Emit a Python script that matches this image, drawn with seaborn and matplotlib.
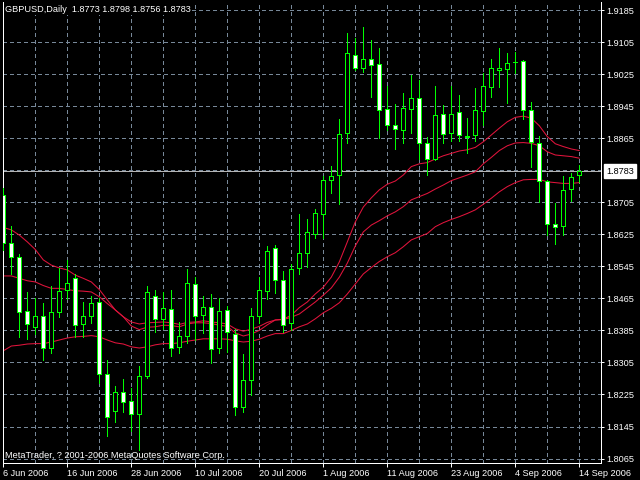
import numpy as np
import pandas as pd
import matplotlib
matplotlib.use("Agg")
import matplotlib.pyplot as plt
import matplotlib.transforms as mtransforms
import seaborn as sns

# ---------------- data ----------------
symbol_title = "GBPUSD,Daily  1.8773 1.8798 1.8756 1.8783"
footer_text = "MetaTrader, ? 2001-2006 MetaQuotes Software Corp."
dates = pd.bdate_range("2006-06-06", "2006-09-14")

opens = [1.8723, 1.8604, 1.8569, 1.8434, 1.8393, 1.8420, 1.8340, 1.8430, 1.8485, 1.8515,
         1.8400, 1.8420, 1.8455, 1.8275, 1.8183, 1.8230, 1.8208, 1.8177, 1.8272, 1.8470,
         1.8413, 1.8438, 1.8343, 1.8370, 1.8500, 1.8423, 1.8443, 1.8340, 1.8435, 1.8375,
         1.8193, 1.8260, 1.8420, 1.8483, 1.8590, 1.8510, 1.8403, 1.8540, 1.8578, 1.8625,
         1.8675, 1.8760, 1.8772, 1.8877, 1.9072, 1.9039, 1.9062, 1.9049, 1.8937, 1.8897,
         1.8885, 1.8937, 1.8965, 1.8852, 1.8812, 1.8925, 1.8877, 1.8930, 1.8867, 1.8872,
         1.8932, 1.8992, 1.9036, 1.9037, 1.9054, 1.9057, 1.8935, 1.8852, 1.8757, 1.8650,
         1.8645, 1.8737, 1.8773]
highs = [1.8741, 1.8646, 1.8576, 1.8481, 1.8467, 1.8453, 1.8496, 1.8542, 1.8560, 1.8526,
         1.8456, 1.8470, 1.8467, 1.8311, 1.8246, 1.8264, 1.8240, 1.8296, 1.8496, 1.8486,
         1.8480, 1.8486, 1.8406, 1.8538, 1.8518, 1.8470, 1.8476, 1.8466, 1.8445, 1.8388,
         1.8326, 1.8440, 1.8518, 1.8596, 1.8597, 1.8533, 1.8550, 1.8676, 1.8662, 1.8687,
         1.8770, 1.8796, 1.8913, 1.9127, 1.9114, 1.9142, 1.9110, 1.9090, 1.8995, 1.8950,
         1.8977, 1.9022, 1.9010, 1.8867, 1.8995, 1.8947, 1.8995, 1.8972, 1.8915, 1.8990,
         1.9027, 1.9062, 1.9089, 1.9077, 1.9081, 1.9060, 1.8955, 1.8870, 1.8760, 1.8702,
         1.8770, 1.8777, 1.8798]
lows = [1.8586, 1.8526, 1.8368, 1.8363, 1.8375, 1.8312, 1.8329, 1.8418, 1.8463, 1.8368,
        1.8369, 1.8404, 1.8254, 1.8121, 1.8157, 1.8181, 1.8135, 1.8086, 1.8267, 1.8382,
        1.8388, 1.8322, 1.8329, 1.8353, 1.8362, 1.8378, 1.8304, 1.8328, 1.8332, 1.8174,
        1.8180, 1.8224, 1.8404, 1.8464, 1.8478, 1.8380, 1.8386, 1.8525, 1.8543, 1.8615,
        1.8615, 1.8727, 1.8700, 1.8852, 1.9035, 1.9031, 1.8969, 1.8865, 1.8885, 1.8839,
        1.8852, 1.8877, 1.8812, 1.8772, 1.8811, 1.8852, 1.8859, 1.8859, 1.8827, 1.8857,
        1.8897, 1.8969, 1.8992, 1.8954, 1.9027, 1.8912, 1.8792, 1.8705, 1.8623, 1.8600,
        1.8623, 1.8709, 1.8756]
closes = [1.8603, 1.8569, 1.8432, 1.8400, 1.8420, 1.8340, 1.8430, 1.8483, 1.8503, 1.8398,
          1.8420, 1.8453, 1.8275, 1.8170, 1.8230, 1.8205, 1.8177, 1.8270, 1.8480, 1.8413,
          1.8440, 1.8340, 1.8370, 1.8503, 1.8420, 1.8443, 1.8338, 1.8433, 1.8380, 1.8193,
          1.8260, 1.8420, 1.8485, 1.8583, 1.8510, 1.8398, 1.8538, 1.8578, 1.8630, 1.8677,
          1.8760, 1.8770, 1.8875, 1.9077, 1.9039, 1.9062, 1.9047, 1.8935, 1.8897, 1.8887,
          1.8940, 1.8965, 1.8852, 1.8812, 1.8922, 1.8875, 1.8925, 1.8872, 1.8870, 1.8935,
          1.8995, 1.9039, 1.9039, 1.9052, 1.9056, 1.8936, 1.8855, 1.8757, 1.8650, 1.8642,
          1.8735, 1.8767, 1.8783]

ma_fast = [1.8642, 1.8636, 1.8623, 1.8606, 1.8587, 1.8561, 1.8548, 1.8541, 1.8536, 1.8523,
           1.8515, 1.8506, 1.8487, 1.8461, 1.8436, 1.8419, 1.8406, 1.8401, 1.8404, 1.8405,
           1.8406, 1.8404, 1.8400, 1.8405, 1.8406, 1.8409, 1.8406, 1.8404, 1.8401, 1.8389,
           1.8383, 1.8388, 1.8395, 1.8405, 1.8411, 1.8413, 1.8423, 1.8442, 1.8456, 1.8476,
           1.8493, 1.8518, 1.8556, 1.8606, 1.8656, 1.8693, 1.8716, 1.8736, 1.8750, 1.8758,
           1.8773, 1.8794, 1.8801, 1.8804, 1.8813, 1.8821, 1.8827, 1.8833, 1.8836, 1.8842,
           1.8856, 1.8873, 1.8890, 1.8906, 1.8917, 1.8920, 1.8915, 1.8896, 1.8869, 1.8851,
           1.8844, 1.8838, 1.8834]
ma_mid = [1.8521, 1.8521, 1.8515, 1.8509, 1.8506, 1.8497, 1.8490, 1.8490, 1.8487, 1.8484,
          1.8483, 1.8481, 1.8469, 1.8452, 1.8436, 1.8419, 1.8396, 1.8387, 1.8393, 1.8394,
          1.8398, 1.8397, 1.8394, 1.8401, 1.8404, 1.8404, 1.8402, 1.8398, 1.8395, 1.8379,
          1.8371, 1.8376, 1.8385, 1.8399, 1.8411, 1.8412, 1.8418, 1.8426, 1.8441, 1.8456,
          1.8473, 1.8491, 1.8518, 1.8553, 1.8596, 1.8631, 1.8648, 1.8659, 1.8671, 1.8681,
          1.8694, 1.8711, 1.8719, 1.8727, 1.8738, 1.8748, 1.8759, 1.8766, 1.8773, 1.8781,
          1.8801, 1.8817, 1.8834, 1.8846, 1.8853, 1.8854, 1.8852, 1.8846, 1.8831, 1.8823,
          1.8821, 1.8819, 1.8815]
ma_slow = [1.8334, 1.8346, 1.8348, 1.8351, 1.8352, 1.8352, 1.8356, 1.8361, 1.8366, 1.8369,
           1.8370, 1.8372, 1.8369, 1.8361, 1.8354, 1.8351, 1.8344, 1.8341, 1.8344, 1.8349,
           1.8352, 1.8352, 1.8354, 1.8358, 1.8361, 1.8364, 1.8364, 1.8364, 1.8363, 1.8359,
           1.8356, 1.8358, 1.8363, 1.8371, 1.8377, 1.8377, 1.8385, 1.8394, 1.8401, 1.8414,
           1.8429, 1.8440, 1.8454, 1.8476, 1.8501, 1.8526, 1.8542, 1.8557, 1.8569, 1.8579,
           1.8594, 1.8611, 1.8619, 1.8627, 1.8644, 1.8654, 1.8662, 1.8669, 1.8677, 1.8686,
           1.8700, 1.8715, 1.8731, 1.8744, 1.8754, 1.8761, 1.8762, 1.8762, 1.8756, 1.8754,
           1.8752, 1.8752, 1.8754]

price_ticks = [1.8065, 1.8145, 1.8225, 1.8305, 1.8385, 1.8465, 1.8545, 1.8625,
               1.8705, 1.8865, 1.8945, 1.9025, 1.9105, 1.9185]
grid_prices = [1.8065, 1.8145, 1.8225, 1.8305, 1.8385, 1.8465, 1.8545, 1.8625,
               1.8705, 1.8785, 1.8865, 1.8945, 1.9025, 1.9105, 1.9185]
date_tick_labels = ["6 Jun 2006", "16 Jun 2006", "28 Jun 2006", "10 Jul 2006", "20 Jul 2006",
                    "1 Aug 2006", "11 Aug 2006", "23 Aug 2006", "4 Sep 2006", "14 Sep 2006"]
last_price = 1.8783

# ---------------- styling ----------------
sns.set_theme(style="dark")
plt.rcParams["font.family"] = ["Liberation Sans", "DejaVu Sans"]
FS = 6.6
PX = 72 / 100  # one pixel in points

EDGE = "#00ff00"
WICK = "#00ff00"
MA_COLOR = "#e0143c"
GRID = "#778899"

fig = plt.figure(figsize=(6.4, 4.8), dpi=100, facecolor="black")
W, H = 640, 480
ax = fig.add_axes([3 / W, 1 - 463 / H, (601 - 3) / W, (463 - 2) / H])
ax.set_facecolor("black")

idx = np.arange(len(closes))
o = np.array(opens); h = np.array(highs); l = np.array(lows); c = np.array(closes)

# grid
for gp in grid_prices:
    ax.axhline(gp, color=GRID, lw=PX, ls=(0, (3, 3)), zorder=1, antialiased=False)
for gx in range(4, 76, 4):
    ax.axvline(gx, color=GRID, lw=PX, ls=(0, (3, 3)), zorder=1, antialiased=False)

# current price line
ax.axhline(last_price, color="#b4b4b4", lw=PX, zorder=1.5, antialiased=False)

# moving averages via seaborn
df = pd.DataFrame({"idx": idx, "fast": ma_fast, "mid": ma_mid, "slow": ma_slow})
for col in ["fast", "mid", "slow"]:
    sns.lineplot(data=df, x="idx", y=col, ax=ax, color=MA_COLOR, lw=PX * 1.05,
                 legend=False, zorder=2)

# candles
ax.vlines(idx, l, h, color=WICK, lw=PX, zorder=3, antialiased=False)
bull = c >= o
bottoms = np.minimum(o, c)
heights = np.maximum(np.abs(c - o), 0.00001)
fills = np.where(bull, "black", "white")
ax.bar(idx, heights, bottom=bottoms, width=0.5, color=fills, edgecolor=EDGE,
       linewidth=PX, zorder=4, antialiased=False)

ax.set_xlim(-0.04, 74.71)
ax.set_ylim(1.80539, 1.92050)
ax.set_xlabel(""); ax.set_ylabel("")

# spines
for s in ["left", "bottom", "right"]:
    ax.spines[s].set_visible(True)
    ax.spines[s].set_color("white")
    ax.spines[s].set_linewidth(PX)
    ax.spines[s].set_antialiased(False)
ax.spines["top"].set_visible(False)
ax.grid(False)

# y ticks on the right
ax.yaxis.tick_right()
ax.set_yticks(price_ticks)
ax.set_yticklabels([f"{p:.4f}" for p in price_ticks])
ax.tick_params(axis="y", colors="white", length=2, width=PX, pad=1.5, labelsize=FS,
               labelcolor="white", right=True, left=False)

# x ticks
tick_pos = [dates.get_loc(pd.to_datetime(t, format="%d %b %Y")) for t in date_tick_labels]
ax.set_xticks(tick_pos)
ax.set_xticklabels(date_tick_labels, ha="left")
ax.tick_params(axis="x", colors="white", length=3, width=PX, pad=1.5, labelsize=FS,
               labelcolor="white", bottom=True)

# current price label box
trans = mtransforms.blended_transform_factory(ax.transAxes, ax.transData)
ax.text(1.0 + 5 / 598, last_price, f"{last_price:.4f}", transform=trans, ha="left", va="center",
        fontsize=FS, color="black", zorder=6, clip_on=False,
        bbox=dict(facecolor="white", edgecolor="white", boxstyle="square,pad=0.25"))

# title and footer
fig.text(5 / W, 1 - 10 / H, symbol_title, color="white", fontsize=FS, ha="left", va="center",
         bbox=dict(facecolor="black", edgecolor="none", boxstyle="square,pad=0.1"), zorder=10)
fig.text(5 / W, 1 - 455 / H, footer_text, color="white", fontsize=FS, ha="left", va="center",
         zorder=10)

fig.savefig("out.png", dpi=100, facecolor="black")
